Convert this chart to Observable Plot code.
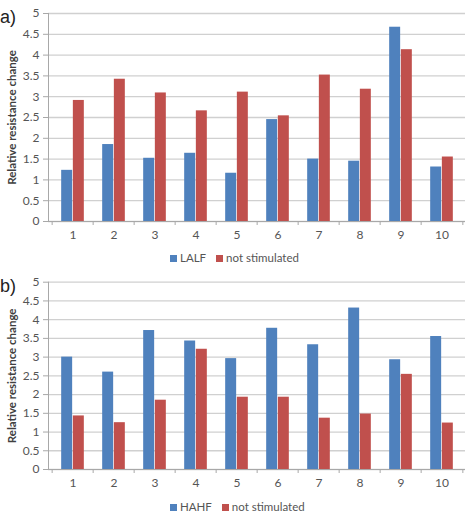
<!DOCTYPE html>
<html>
<head>
<meta charset="utf-8">
<script src="https://cdn.jsdelivr.net/npm/d3@7"></script>
<script src="https://cdn.jsdelivr.net/npm/@observablehq/plot@0.6"></script>
<style>
  body { margin: 0; background: #fff; font-family: Lato, "Open Sans", sans-serif; }
  #wrap { position: relative; width: 469px; height: 515px; overflow: hidden; }
  .panel { position: absolute; left: 0; }
  .tag { position: absolute; left: 0; font-family: "Liberation Sans", Arial, sans-serif; font-size: 18px; color: #222; }
  .legend { position: absolute; font-size: 11.5px; color: #555; display: flex; align-items: center; gap: 10px; white-space: nowrap; }
  .legend span.sw { display: inline-block; width: 7px; height: 7px; margin-right: 3px; }
</style>
</head>
<body>
<div id="wrap"></div>
<script>
const categories = ["1","2","3","4","5","6","7","8","9","10"];
const yTicks = [0,0.5,1,1.5,2,2.5,3,3.5,4,4.5,5];
const yLabel = "Relative resistance change";
const controlName = "not stimulated";

const seriesA = "LALF";
const lalf =      [1.23, 1.85, 1.52, 1.64, 1.16, 2.45, 1.50, 1.45, 4.67, 1.31];
const notStimA =  [2.91, 3.42, 3.09, 2.66, 3.11, 2.54, 3.52, 3.18, 4.13, 1.55];

const seriesB = "HAHF";
const hahf =      [3.00, 2.60, 3.71, 3.43, 2.96, 3.77, 3.33, 4.31, 2.93, 3.55];
const notStimB =  [1.43, 1.25, 1.85, 3.21, 1.93, 1.93, 1.37, 1.48, 2.54, 1.24];

const BLUE = "#4f81bd", RED = "#c0504d";
const W = 469, mL = 48, mR = 4;

function panel(vals1, vals2, top, height, marginTop, marginBottom) {
  const step = (W - mL - mR) / categories.length;
  const outer = step * 0.22;
  const half = step * 0.5;
  const d1 = categories.map((c, i) => ({cat: c, v: vals1[i]}));
  const d2 = categories.map((c, i) => ({cat: c, v: vals2[i]}));
  const svg = Plot.plot({
    width: W, height, marginLeft: mL, marginRight: mR, marginTop, marginBottom,
    style: {fontFamily: "Lato, 'Open Sans', sans-serif", fontSize: "11.5px", color: "#555", background: "transparent", overflow: "visible"},
    x: {domain: categories, padding: 0, label: null},
    y: {domain: [0, 5], label: null},
    marks: [
      Plot.gridY(yTicks, {stroke: "#d0d0d0", strokeOpacity: 1, strokeWidth: 1.3}),
      Plot.barY(d1, {x: "cat", y: "v", fill: BLUE, insetLeft: outer, insetRight: half}),
      Plot.barY(d2, {x: "cat", y: "v", fill: RED, insetLeft: half, insetRight: outer}),
      Plot.ruleY([0], {stroke: "#a8a8a8"}),
      Plot.frame({anchor: "left", stroke: "#a8a8a8"}),
      Plot.ruleX(categories, {x: d => d, dx: -half, y1: 0, y2: 0, insetBottom: -4, stroke: "#a8a8a8"}),
      Plot.ruleX(categories.slice(-1), {x: d => d, dx: half, y1: 0, y2: 0, insetBottom: -4, stroke: "#a8a8a8"}),
      Plot.axisY(yTicks, {tickSize: 5, tickPadding: 4, stroke: "#a8a8a8", fill: "#555", label: null, tickFormat: d => String(d), fontSize: 12}),
      Plot.axisX({tickSize: 0, tickPadding: 9, fill: "#555", label: null, fontSize: 12}),
      Plot.text([yLabel], {frameAnchor: "left", textAnchor: "middle", rotate: -90, dx: -36, fontWeight: "bold", fill: "#404040", fontSize: 11.5})
    ]
  });
  svg.classList.add("panel");
  svg.style.top = top + "px";
  return svg;
}

function legend(name, left, top) {
  const div = document.createElement("div");
  div.className = "legend";
  div.style.left = left + "px";
  div.style.top = top + "px";
  [[name, BLUE], [controlName, RED]].forEach(([n, c]) => {
    const s = document.createElement("span");
    s.innerHTML = `<span class="sw" style="background:${c}"></span>${n}`;
    div.appendChild(s);
  });
  return div;
}

function tag(t, top) {
  const d = document.createElement("div");
  d.className = "tag";
  d.style.top = top + "px";
  d.textContent = t;
  return d;
}

const wrap = document.getElementById("wrap");
wrap.appendChild(panel(lalf, notStimA, 0, 247, 13, 26));
wrap.appendChild(legend(seriesA, 170, 251));
wrap.appendChild(tag("a)", 7));
wrap.appendChild(panel(hahf, notStimB, 268, 227, 13.7, 26));
wrap.appendChild(legend(seriesB, 170, 500));
wrap.appendChild(tag("b)", 276));
</script>
</body>
</html>
